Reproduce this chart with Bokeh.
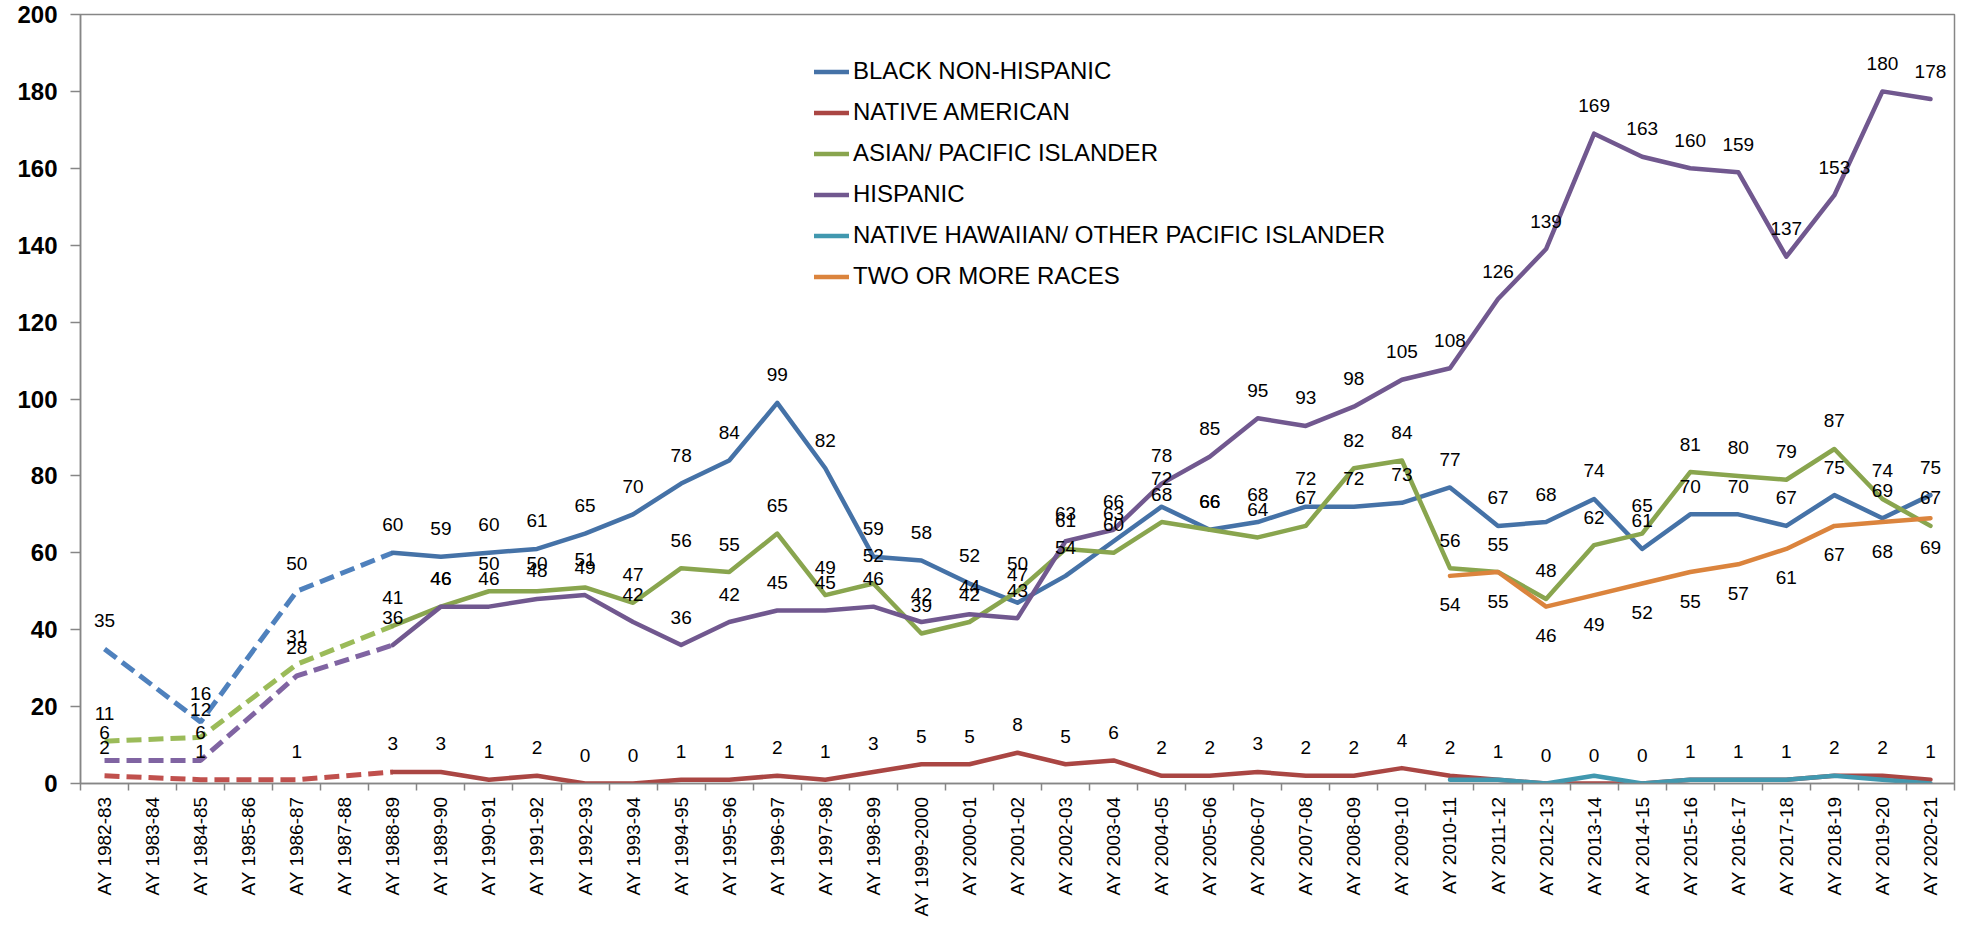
import math
from bokeh.plotting import figure
from bokeh.models import (ColumnDataSource, FixedTicker, CustomJSTickFormatter,
                          Range1d, Legend, LegendItem)
from bokeh.embed import file_html
from bokeh.resources import INLINE
from bokeh.core.properties import value

# ---------------- data ----------------
categories = [
    "AY 1982-83", "AY 1983-84", "AY 1984-85", "AY 1985-86", "AY 1986-87",
    "AY 1987-88", "AY 1988-89", "AY 1989-90", "AY 1990-91", "AY 1991-92",
    "AY 1992-93", "AY 1993-94", "AY 1994-95", "AY 1995-96", "AY 1996-97",
    "AY 1997-98", "AY 1998-99", "AY 1999-2000", "AY 2000-01", "AY 2001-02",
    "AY 2002-03", "AY 2003-04", "AY 2004-05", "AY 2005-06", "AY 2006-07",
    "AY 2007-08", "AY 2008-09", "AY 2009-10", "AY 2010-11", "AY 2011-12",
    "AY 2012-13", "AY 2013-14", "AY 2014-15", "AY 2015-16", "AY 2016-17",
    "AY 2017-18", "AY 2018-19", "AY 2019-20", "AY 2020-21",
]

black_non_hispanic = [35, None, 16, None, 50, None, 60, 59, 60, 61, 65, 70, 78, 84,
                      99, 82, 59, 58, 52, 47, 54, 63, 72, 66, 68, 72, 72, 73, 77,
                      67, 68, 74, 61, 70, 70, 67, 75, 69, 75]
native_american = [2, None, 1, None, 1, None, 3, 3, 1, 2, 0, 0, 1, 1, 2, 1, 3, 5,
                   5, 8, 5, 6, 2, 2, 3, 2, 2, 4, 2, 1, 0, 0, 0, 1, 1, 1, 2, 2, 1]
asian_pacific_islander = [11, None, 12, None, 31, None, 41, 46, 50, 50, 51, 47, 56,
                          55, 65, 49, 52, 39, 42, 50, 61, 60, 68, 66, 64, 67, 82, 84,
                          56, 55, 48, 62, 65, 81, 80, 79, 87, 74, 67]
hispanic = [6, None, 6, None, 28, None, 36, 46, 46, 48, 49, 42, 36, 42, 45, 45, 46,
            42, 44, 43, 63, 66, 78, 85, 95, 93, 98, 105, 108, 126, 139, 169, 163,
            160, 159, 137, 153, 180, 178]
# these two series are reported from AY 2010-11 onward
late_series_start = "AY 2010-11"
native_hawaiian_opi = [1, 1, 0, 2, 0, 1, 1, 1, 2, 1, 0]
two_or_more_races = [54, 55, 46, 49, 52, 55, 57, 61, 67, 68, 69]

# last category of the estimated (dashed) early period
dashed_until = "AY 1988-89"

y_ticks = [0, 20, 40, 60, 80, 100, 120, 140, 160, 180, 200]

# ---------------- helpers ----------------
n = len(categories)
start = categories.index(late_series_start)
dash_end = categories.index(dashed_until)


def full(vals, offset=0):
    out = [None] * n
    for k, v in enumerate(vals):
        out[offset + k] = v
    return out


series = [
    ("BLACK NON-HISPANIC", full(black_non_hispanic), "#4572A7", "#4F81BD", -28),
    ("NATIVE AMERICAN", full(native_american), "#AA4643", "#C0504D", -28),
    ("ASIAN/ PACIFIC ISLANDER", full(asian_pacific_islander), "#89A54E", "#9BBB59", -28),
    ("HISPANIC", full(hispanic), "#71588F", "#8064A2", -28),
    ("NATIVE HAWAIIAN/ OTHER PACIFIC ISLANDER", full(native_hawaiian_opi, start), "#4198AF", "#4BACC6", None),
    ("TWO OR MORE RACES", full(two_or_more_races, start), "#DB843D", "#F79646", 29),
]

p = figure(width=1964, height=919, x_range=Range1d(0, n), y_range=Range1d(0, 200),
           output_backend="svg", toolbar_location=None,
           min_border_left=80, min_border_right=10, min_border_top=14,
           min_border_bottom=135)
p.xgrid.visible = False
p.ygrid.visible = False
p.outline_line_color = "#868686"
p.outline_line_width = 1.5
p.background_fill_color = "white"
p.border_fill_color = "white"

legend_items = []
label_x, label_y, label_t, label_off = [], [], [], []

for name, vals, solid_c, dash_c, off in series:
    # dashed early segment
    dx = [i + 0.5 for i in range(0, dash_end + 1) if vals[i] is not None]
    dy = [vals[i] for i in range(0, dash_end + 1) if vals[i] is not None]
    if len(dx) > 1:
        p.line(dx, dy, line_color=dash_c, line_width=5, line_dash="15 7")
    sx = [i + 0.5 for i in range(dash_end, n) if vals[i] is not None]
    sy = [vals[i] for i in range(dash_end, n) if vals[i] is not None]
    r = p.line(sx, sy, line_color=solid_c, line_width=4.5,
               line_join="round", line_cap="round")
    legend_items.append(LegendItem(label=name, renderers=[r]))
    if off is not None:
        for i, v in enumerate(vals):
            if v is not None:
                label_x.append(i + 0.5)
                label_y.append(v)
                label_t.append(str(v))
                label_off.append(off)

src = ColumnDataSource(dict(x=label_x, y=label_y, t=label_t, off=label_off))
p.text(x="x", y="y", text="t", y_offset="off", source=src,
       text_align="center", text_baseline="middle",
       text_font=value("Liberation Sans"), text_font_size="19px",
       text_color="#000000")

# y axis
yax = p.yaxis[0]
yax.ticker = FixedTicker(ticks=y_ticks, minor_ticks=[])
yax.axis_line_color = "#868686"
yax.axis_line_width = 1.5
yax.major_tick_line_color = "#868686"
yax.major_tick_line_width = 1.5
yax.major_tick_out = 10
yax.major_tick_in = 0
yax.minor_tick_line_color = None
yax.major_label_text_font = "Liberation Sans"
yax.major_label_text_font_style = "bold"
yax.major_label_text_font_size = "24px"
yax.major_label_text_color = "#000000"
yax.major_label_standoff = 13

# x axis: labels centred in categories, ticks between them
xax = p.xaxis[0]
xax.ticker = FixedTicker(ticks=[i + 0.5 for i in range(n)],
                         minor_ticks=list(range(n + 1)))
xax.formatter = CustomJSTickFormatter(args=dict(cats=categories),
                                      code="const k = Math.floor(tick); return (k >= 0 && k < cats.length) ? cats[k] : '';")
xax.axis_line_color = "#868686"
xax.axis_line_width = 1.5
xax.major_tick_out = 0
xax.major_tick_in = 0
xax.major_tick_line_color = None
xax.minor_tick_out = 7
xax.minor_tick_in = 0
xax.minor_tick_line_color = "#868686"
xax.minor_tick_line_width = 1.5
xax.major_label_orientation = math.pi / 2
xax.major_label_text_font = "Liberation Sans"
xax.major_label_text_font_size = "19px"
xax.major_label_text_color = "#000000"
xax.major_label_standoff = 6

legend = Legend(items=legend_items, location=(734, 493),
                border_line_color=None, background_fill_alpha=0,
                padding=0, margin=0, spacing=13,
                glyph_width=35, glyph_height=27, label_height=27,
                label_standoff=4,
                label_text_font="Liberation Sans",
                label_text_font_size="24px", label_text_color="#000000")
p.add_layout(legend)

open("out.html", "w").write(file_html(p, INLINE))
